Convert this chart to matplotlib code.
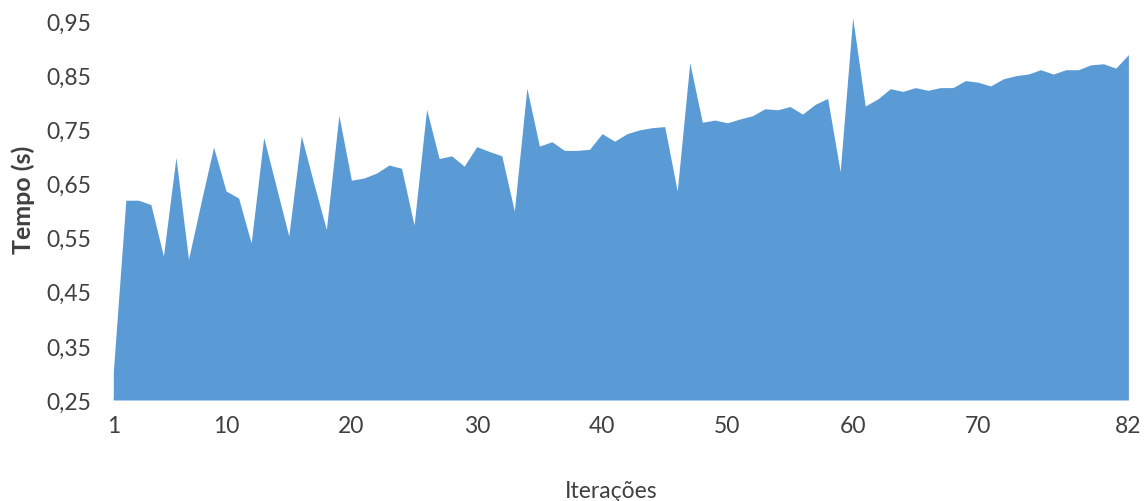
import matplotlib

matplotlib.use("Agg")
import matplotlib.pyplot as plt
import matplotlib.ticker as mticker
import numpy as np

# Tempo (s) per iteration
iteracoes = np.arange(1, 83)
tempo = [
    0.302, 0.619, 0.619, 0.611, 0.516, 0.698, 0.510, 0.615, 0.717, 0.636,
    0.623, 0.540, 0.735, 0.644, 0.553, 0.738, 0.650, 0.565, 0.776, 0.656,
    0.660, 0.669, 0.684, 0.678, 0.573, 0.787, 0.696, 0.701, 0.682, 0.718,
    0.709, 0.701, 0.599, 0.826, 0.719, 0.727, 0.711, 0.711, 0.713, 0.742,
    0.728, 0.742, 0.749, 0.753, 0.755, 0.636, 0.873, 0.763, 0.767, 0.762,
    0.769, 0.775, 0.788, 0.786, 0.792, 0.778, 0.796, 0.807, 0.672, 0.956,
    0.793, 0.806, 0.825, 0.820, 0.827, 0.822, 0.827, 0.827, 0.840, 0.837,
    0.830, 0.843, 0.849, 0.852, 0.860, 0.852, 0.860, 0.860, 0.869, 0.871,
    0.863, 0.888,
]
x_ticks = [1, 10, 20, 30, 40, 50, 60, 70, 82]
y_ticks = [0.25, 0.35, 0.45, 0.55, 0.65, 0.75, 0.85, 0.95]

AREA_COLOR = "#5B9BD5"
TEXT_COLOR = "#404040"
W, H = 1148, 502

plt.rcParams["font.family"] = ["Lato", "DejaVu Sans"]

fig = plt.figure(figsize=(W / 100, H / 100), dpi=100)
ax = fig.add_axes([113.3 / W, 1 - 401 / H, (1128.4 - 113.3) / W, (401 - 22) / H])

ax.fill_between(iteracoes, y_ticks[0], tempo, color=AREA_COLOR, linewidth=0, clip_on=False)
ax.axhline(y_ticks[0], color="#D9D9D9", linewidth=1.5, zorder=0.5)

ax.set_xlim(1, 82)
ax.set_ylim(0.25, 0.95)
ax.set_xticks(x_ticks)
ax.set_yticks(y_ticks)
ax.yaxis.set_major_formatter(
    mticker.FuncFormatter(lambda v, _: f"{v:.2f}".replace(".", ","))
)
ax.tick_params(axis="both", length=0, labelsize=16.5, labelcolor=TEXT_COLOR)
ax.tick_params(axis="y", pad=16)
ax.tick_params(axis="x", pad=11)
for spine in ax.spines.values():
    spine.set_visible(False)

fig.text(23 / W, 1 - 200 / H, "Tempo (s)", rotation=90, ha="center", va="center",
         fontsize=18, fontweight="bold", color=TEXT_COLOR)
fig.text(611 / W, 1 - 498 / H, "Iterações", ha="center", va="baseline",
         fontsize=16.5, color=TEXT_COLOR)

fig.savefig("out.png", dpi=100)
